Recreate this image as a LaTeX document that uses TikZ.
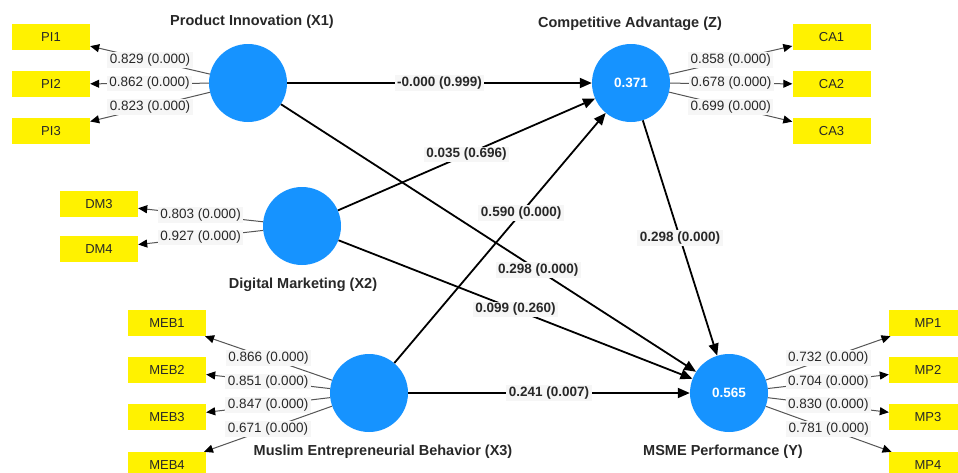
\documentclass[tikz,border=0pt]{standalone}
\usepackage{fontspec}
\setmainfont{Liberation Sans}
\usetikzlibrary{arrows.meta}
\definecolor{lvblue}{RGB}{22,147,255}
\definecolor{labbg}{RGB}{246,246,246}
\definecolor{txt}{RGB}{40,40,40}
\definecolor{ldline}{RGB}{85,85,85}
\begin{document}
\begin{tikzpicture}[x=1pt,y=-1pt,
 latent/.style={circle,fill=lvblue,minimum size=78pt,inner sep=0pt,text=white,font=\fontsize{13.5}{16}\selectfont\bfseries},
 ind/.style={fill=yellow,minimum width=78pt,minimum height=26pt,inner sep=0pt,font=\fontsize{13}{15}\selectfont,text=txt},
 ttl/.style={anchor=base,font=\fontsize{14.5}{17}\selectfont\bfseries,text=txt},
 load/.style={draw=ldline,line width=1pt,-{Triangle[length=9pt,width=8pt,color=black]}},
 loadlab/.style={fill=labbg,inner xsep=2.5pt,inner ysep=1.5pt,font=\fontsize{13.5}{16}\selectfont,text=txt},
 strpath/.style={draw=black,line width=1.8pt,-{Triangle[length=12pt,width=10pt]}},
 pathlab/.style={fill=labbg,inner xsep=2.5pt,inner ysep=1.5pt,font=\fontsize{13.5}{16}\selectfont\bfseries,text=txt}]
\clip (0,0) rectangle (958,472);
\fill[white] (0,0) rectangle (958,472);

% latent variables
\node[latent] (x1) at (248,83) {};
\node[latent] (z) at (631,83) {0.371};
\node[latent] (x2) at (302,226) {};
\node[latent] (x3) at (369,393) {};
\node[latent] (y) at (729,393) {0.565};

% titles
\node[ttl] (tx1) at (252,25) {Product Innovation (X1)};
\node[ttl] (tz) at (630,27) {Competitive Advantage (Z)};
\node[ttl] (tx2) at (303,288) {Digital Marketing (X2)};
\node[ttl] (tx3) at (383,455) {Muslim Entrepreneurial Behavior (X3)};
\node[ttl] (ty) at (723,455) {MSME Performance (Y)};

% indicators
\node[ind] (pi1) at (51,37) {PI1};
\node[ind] (pi2) at (51,84) {PI2};
\node[ind] (pi3) at (51,131) {PI3};
\node[ind] (ca1) at (831.5,37) {CA1};
\node[ind] (ca2) at (831.5,84) {CA2};
\node[ind] (ca3) at (831.5,131) {CA3};
\node[ind] (dm3) at (99,204) {DM3};
\node[ind] (dm4) at (99,249) {DM4};
\node[ind] (meb1) at (167,323) {MEB1};
\node[ind] (meb2) at (167,370) {MEB2};
\node[ind] (meb3) at (167,417) {MEB3};
\node[ind] (meb4) at (167,465) {MEB4};
\node[ind] (mp1) at (928,323) {MP1};
\node[ind] (mp2) at (928,370) {MP2};
\node[ind] (mp3) at (928,417) {MP3};
\node[ind] (mp4) at (928,465) {MP4};

% outer loadings
\draw[load] (x1) -- node[loadlab]{0.829 (0.000)} (pi1);
\draw[load] (x1) -- node[loadlab]{0.862 (0.000)} (pi2);
\draw[load] (x1) -- node[loadlab]{0.823 (0.000)} (pi3);
\draw[load] (z) -- node[loadlab]{0.858 (0.000)} (ca1);
\draw[load] (z) -- node[loadlab]{0.678 (0.000)} (ca2);
\draw[load] (z) -- node[loadlab]{0.699 (0.000)} (ca3);
\draw[load] (x2) -- node[loadlab]{0.803 (0.000)} (dm3);
\draw[load] (x2) -- node[loadlab]{0.927 (0.000)} (dm4);
\draw[load] (x3) -- node[loadlab]{0.866 (0.000)} (meb1);
\draw[load] (x3) -- node[loadlab]{0.851 (0.000)} (meb2);
\draw[load] (x3) -- node[loadlab]{0.847 (0.000)} (meb3);
\draw[load] (x3) -- node[loadlab]{0.671 (0.000)} (meb4);
\draw[load] (y) -- node[loadlab]{0.732 (0.000)} (mp1);
\draw[load] (y) -- node[loadlab]{0.704 (0.000)} (mp2);
\draw[load] (y) -- node[loadlab]{0.830 (0.000)} (mp3);
\draw[load] (y) -- node[loadlab]{0.781 (0.000)} (mp4);

% structural paths
\draw[strpath] (x1) -- node[pathlab]{-0.000 (0.999)} (z);
\draw[strpath] (x2) -- node[pathlab]{0.035 (0.696)} (z);
\draw[strpath] (x3) -- node[pathlab,pos=0.6]{0.590 (0.000)} (z);
\draw[strpath] (x1) -- node[pathlab,pos=0.62]{0.298 (0.000)} (y);
\draw[strpath] (x2) -- node[pathlab]{0.099 (0.260)} (y);
\draw[strpath] (z) -- node[pathlab]{0.298 (0.000)} (y);
\draw[strpath] (x3) -- node[pathlab]{0.241 (0.007)} (y);
\end{tikzpicture}
\end{document}
